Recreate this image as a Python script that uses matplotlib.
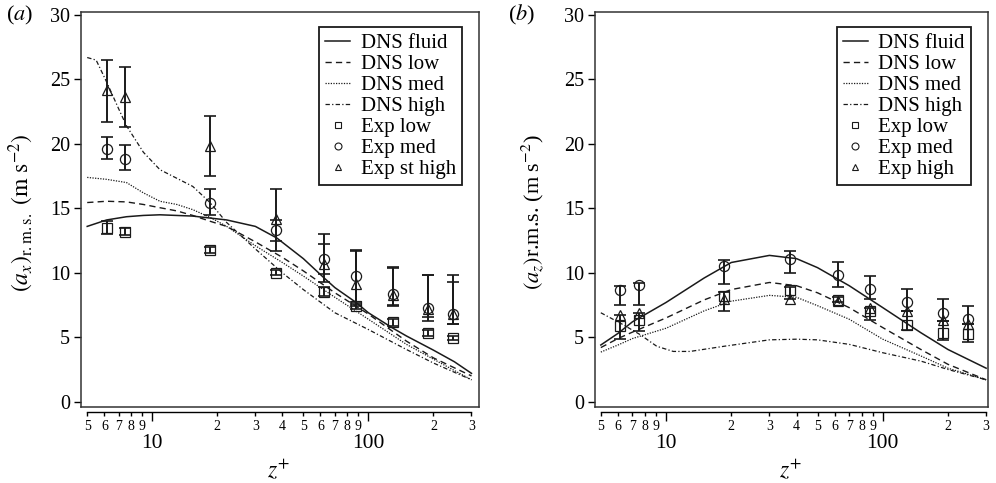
import numpy as np
import matplotlib.pyplot as plt
from matplotlib.lines import Line2D

plt.rcParams['font.family'] = ['Liberation Serif', 'DejaVu Serif']
plt.rcParams['mathtext.fontset'] = 'stix'

# positions des mesures experimentales (z+)
z_exp = [6.15, 7.5, 18.5, 37.4, 62.4, 87.7, 130, 189, 247]

# ---- panneau (a) : a_x ----
a_fluid_z = [5, 6.15, 7.6, 9.1, 10.85, 15.4, 22.1, 30, 37.7, 50, 62.4, 70, 87.7, 100, 130, 150, 200, 250, 300]
a_fluid = [13.6, 14.1, 14.35, 14.45, 14.5, 14.4, 14.1, 13.6, 12.7, 11.1, 9.6, 8.85, 7.7, 6.9, 5.7, 5.1, 4.0, 3.1, 2.2]
a_low_z = [5, 6.15, 7.6, 9.1, 10.85, 13.0, 15.4, 18.5, 22.1, 30, 40, 50, 70, 100, 150, 200, 300]
a_low = [15.45, 15.55, 15.5, 15.3, 15.05, 14.8, 14.45, 14.0, 13.6, 12.4, 11.2, 10.15, 8.45, 6.8, 4.7, 3.4, 2.0]
a_med_z = [5, 6.15, 7.6, 9.1, 10.85, 13.0, 15.4, 18.5, 22.1, 30, 40, 50, 70, 100, 150, 200, 300]
a_med = [17.4, 17.25, 17.0, 16.2, 15.55, 15.3, 14.9, 14.3, 13.6, 12.1, 10.8, 9.75, 8.1, 6.4, 4.45, 3.3, 1.7]
a_high_z = [5, 5.5, 6.15, 7, 7.6, 9.1, 10.85, 15.4, 18.5, 22.1, 30, 40, 50, 70, 100, 150, 200, 300]
a_high = [26.7, 26.5, 24.8, 22.7, 21.4, 19.35, 18.0, 16.7, 15.45, 13.9, 11.85, 10.0, 8.7, 6.9, 5.6, 4.05, 3.0, 1.7]

a_sq = [13.5, 13.2, 11.8, 10.0, 8.5, 7.4, 6.15, 5.35, 4.95]
a_sq_hi = [14.0, 13.5, 12.0, 10.2, 8.9, 7.7, 6.4, 5.6, 5.1]
a_sq_lo = [13.0, 12.9, 11.5, 9.8, 8.2, 7.2, 5.9, 5.1, 4.8]
a_ci = [19.6, 18.8, 15.4, 13.3, 11.1, 9.75, 8.35, 7.3, 6.8]
a_ci_hi = [20.5, 19.9, 16.5, 14.1, 12.2, 11.7, 10.45, 9.85, 9.8]
a_ci_lo = [18.8, 18.0, 14.5, 12.5, 9.9, 7.6, 7.45, 6.55, 6.0]
a_tr = [24.2, 23.6, 19.8, 14.2, 10.7, 9.1, 8.3, 7.2, 6.8]
a_tr_hi = [26.5, 26.0, 22.2, 16.5, 13.0, 11.8, 10.4, 9.8, 9.3]
a_tr_lo = [21.7, 21.3, 17.5, 11.7, 9.3, 7.4, 7.5, 6.3, 6.0]

# ---- panneau (b) : a_z ----
b_dns_z = [5, 6, 7, 10, 15, 20, 30, 40, 50, 70, 100, 150, 200, 300]
b_fluid = [4.4, 5.3, 6.2, 7.7, 9.6, 10.8, 11.35, 11.1, 10.4, 9.0, 7.3, 5.35, 4.05, 2.6]
b_low = [4.2, 4.9, 5.4, 6.5, 7.9, 8.7, 9.25, 9.0, 8.45, 7.3, 5.75, 4.05, 2.9, 1.7]
b_med = [3.85, 4.4, 4.9, 5.7, 7.05, 7.8, 8.25, 8.1, 7.45, 6.4, 4.85, 3.55, 2.6, 1.7]
b_high_z = [5, 6.3, 7.6, 9.06, 10.8, 12.9, 18.5, 30, 40, 50, 70, 100, 150, 200, 300]
b_high = [6.9, 6.0, 5.2, 4.3, 3.9, 3.9, 4.3, 4.8, 4.85, 4.8, 4.45, 3.8, 3.15, 2.5, 1.7]

b_sq = [5.9, 6.35, 8.2, 8.7, 7.9, 7.0, 5.95, 5.35, 5.25]
b_sq_hi = [6.7, 6.9, 8.5, 8.9, 8.1, 7.3, 7.0, 6.3, 6.0]
b_sq_lo = [4.85, 5.5, 7.0, 7.95, 7.7, 6.36, 5.58, 4.8, 4.67]
b_ci = [8.7, 9.05, 10.55, 11.05, 9.8, 8.75, 7.7, 6.9, 6.45]
b_ci_hi = [9.0, 9.2, 10.97, 11.7, 10.85, 9.75, 8.75, 7.95, 7.45]
b_ci_lo = [7.5, 7.5, 9.15, 10.0, 8.9, 8.0, 7.0, 6.3, 6.0]
b_tr = [6.75, 6.9, 8.0, 8.0, 7.85, 7.3, 7.0, 6.35, 6.05]

maj_ticks = [10, 100]
min_ticks = [5, 6, 7, 8, 9, 20, 30, 40, 50, 60, 70, 80, 90, 200, 300]
min_labels = ['5', '6', '7', '8', '9', '2', '3', '4', '5', '6', '7', '8', '9', '2', '3']

noir = '#1a1a1a'
st_dash = (0, (4.5, 3))
st_dot = (0, (1, 1.1))
st_dd = (0, (3.5, 1.8, 1, 1.8))

W, H = 996, 483
fig = plt.figure(figsize=(W / 100, H / 100), dpi=100)


def erreurs(y, hi, lo):
    y = np.array(y)
    return [y - np.array(lo), np.array(hi) - y]


def panneau(ax, xlim, courbes, points, label_tri, leg_x):
    ax.set_xscale('log')
    ax.set_xlim(*xlim)
    ax.set_ylim(-0.41, 30.27)
    for x, y, ls, lw in courbes:
        ax.plot(x, y, color=noir, ls=ls, lw=lw)
    for y, hi, lo, m in points:
        if hi is not None:
            ax.errorbar(z_exp, y, yerr=erreurs(y, hi, lo), fmt='none', ecolor=noir,
                        elinewidth=1.4, capsize=4, capthick=1.2)
        ax.plot(z_exp, y, m, mfc='none', mec=noir, ms=7.3, mew=0.9, ls='none')
    for s in ax.spines.values():
        s.set_linewidth(1.1)
        s.set_color('#333333')
    ax.tick_params(axis='x', which='both', bottom=False, labelbottom=False)
    ax.set_yticks([0, 5, 10, 15, 20, 25, 30])
    ax.tick_params(axis='y', direction='out', length=5, width=1, labelsize=14.5, pad=3)

    sec = ax.secondary_xaxis(-0.012)
    sec.set_xticks(maj_ticks, labels=['10', '100'])
    sec.set_xticks(min_ticks, labels=min_labels, minor=True)
    sec.spines['bottom'].set_bounds(5, 300)
    sec.spines['bottom'].set_linewidth(1.0)
    sec.tick_params(which='major', length=6.5, width=1, labelsize=15.5, pad=9.5)
    sec.tick_params(which='minor', length=3.2, width=1, labelsize=10, pad=2.5)

    handles = [
        Line2D([], [], color=noir, lw=1.1, ls='-'),
        Line2D([], [], color=noir, lw=1.0, ls=st_dash),
        Line2D([], [], color=noir, lw=0.9, ls=st_dot),
        Line2D([], [], color=noir, lw=0.9, ls=st_dd),
        Line2D([], [], color=noir, marker='s', mfc='none', ms=5, mew=0.8, ls='none'),
        Line2D([], [], color=noir, marker='o', mfc='none', ms=5, mew=0.8, ls='none'),
        Line2D([], [], color=noir, marker='^', mfc='none', ms=5, mew=0.8, ls='none'),
    ]
    labels = ['DNS fluid', 'DNS low', 'DNS med', 'DNS high', 'Exp low', 'Exp med', label_tri]
    leg = ax.legend(handles, labels, loc='upper right',
                    bbox_to_anchor=(leg_x / W, 1 - 27 / H),
                    bbox_transform=fig.transFigure, borderaxespad=0,
                    fontsize=15, labelspacing=0.07, handlelength=1.2, handletextpad=0.5,
                    borderpad=0.3, fancybox=False, framealpha=1)
    leg.get_frame().set_edgecolor(noir)
    leg.get_frame().set_linewidth(1.3)


ax1 = fig.add_axes([81 / W, 1 - 407 / H, 398 / W, 395.5 / H])
panneau(ax1, (4.68, 325),
        [(a_fluid_z, a_fluid, '-', 1.1), (a_low_z, a_low, st_dash, 1.0),
         (a_med_z, a_med, st_dot, 0.9), (a_high_z, a_high, st_dd, 0.9)],
        [(a_sq, a_sq_hi, a_sq_lo, 's'), (a_ci, a_ci_hi, a_ci_lo, 'o'), (a_tr, a_tr_hi, a_tr_lo, '^')],
        'Exp st high', 462)

ax2 = fig.add_axes([595 / W, 1 - 407 / H, 393 / W, 395.5 / H])
panneau(ax2, (4.70, 306),
        [(b_dns_z, b_fluid, '-', 1.1), (b_dns_z, b_low, st_dash, 1.0),
         (b_dns_z, b_med, st_dot, 0.9), (b_high_z, b_high, st_dd, 0.9)],
        [(b_sq, b_sq_hi, b_sq_lo, 's'), (b_ci, b_ci_hi, b_ci_lo, 'o'), (b_tr, None, None, '^')],
        'Exp high', 971)

# textes
fig.text(6 / W, 1 - 15 / H, r'($\mathit{a}$)', fontsize=16, va='center', ha='left')
fig.text(508 / W, 1 - 15 / H, r'($\mathit{b}$)', fontsize=16, va='center', ha='left')
fig.text(21 / W, 1 - 213 / H, r'$(a_x)_{\mathrm{r.m.s.}}\ (\mathrm{m\ s^{-2}})$', fontsize=17,
         rotation=90, ha='center', va='center')
fig.text(533 / W, 1 - 212 / H, r'$(a_z)$r.m.s. (m s$^{-2}$)', fontsize=16,
         rotation=90, ha='center', va='center')
fig.text(279 / W, 1 - 470 / H, r'$z^{+}$', fontsize=17, ha='center', va='center')
fig.text(791 / W, 1 - 470 / H, r'$z^{+}$', fontsize=17, ha='center', va='center')

fig.savefig('out.png', dpi=100)
